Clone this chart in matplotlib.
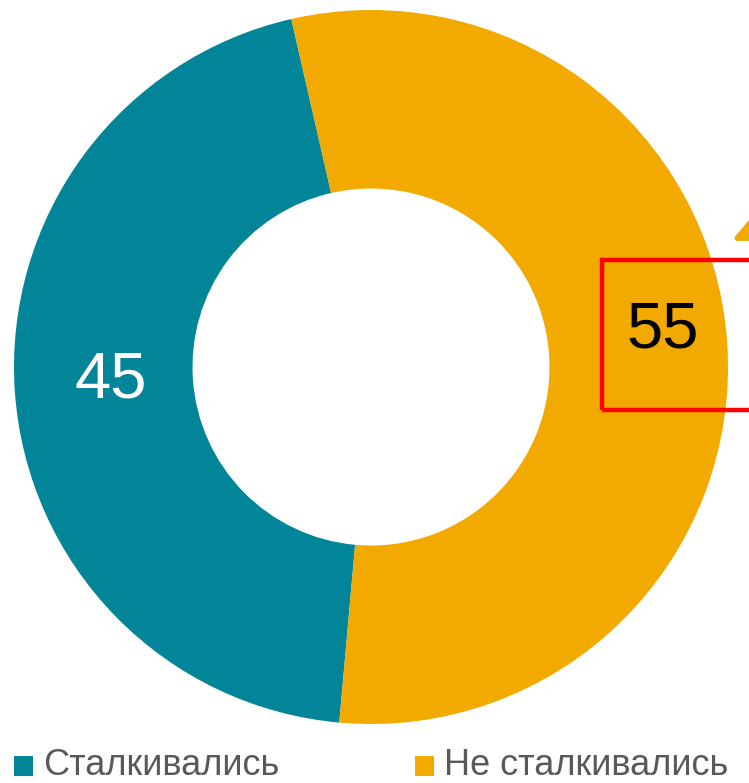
import matplotlib
matplotlib.use("Agg")
import matplotlib.pyplot as plt
from matplotlib.patches import Rectangle

# =========================
# DATA
# =========================
labels = ["Сталкивались", "Не сталкивались"]
values = [45, 55]
colors = ["#038599", "#F2A900"]

W, H = 749, 783
fig = plt.figure(figsize=(W / 100, H / 100), dpi=100)
ax = fig.add_axes([0, 0, 1, 1])
ax.set_aspect("equal")
ax.axis("off")

cx, cy, r = 371, H - 367, 357
wedges, _ = ax.pie(values, colors=colors, startangle=264.9, counterclock=False,
                   radius=r, center=(cx, cy),
                   wedgeprops=dict(width=r * 0.5, linewidth=0))
ax.set_xlim(0, W)
ax.set_ylim(0, H)

# value labels
ax.text(111, H - 380, str(values[0]), color="white", fontsize=47,
        family="Liberation Sans", ha="center", va="center")
ax.text(663, H - 330, str(values[1]), color="black", fontsize=47,
        family="Liberation Sans", ha="center", va="center")

# red highlight box around 55
ax.add_patch(Rectangle((602, H - 410), 200, 150, fill=False,
                       edgecolor="#FF0000", linewidth=3.2, clip_on=False))

# orange arrow coming in from the top right
ax.annotate("", xy=(729, H - 242), xytext=(830, H - 195),
            arrowprops=dict(arrowstyle="-|>,head_length=3.2,head_width=1.5",
                            color="#F2A900", lw=4))

# legend
lx = [14, 415]
for x, lab, c in zip(lx, labels, colors):
    ax.add_patch(Rectangle((x, H - 776), 19, 20, facecolor=c, edgecolor="none",
                           clip_on=False))
    ax.text(x + 29, H - 775, lab, color="#595959", fontsize=26,
            family="Liberation Sans", ha="left", va="baseline")

fig.savefig("out.png", dpi=100)
